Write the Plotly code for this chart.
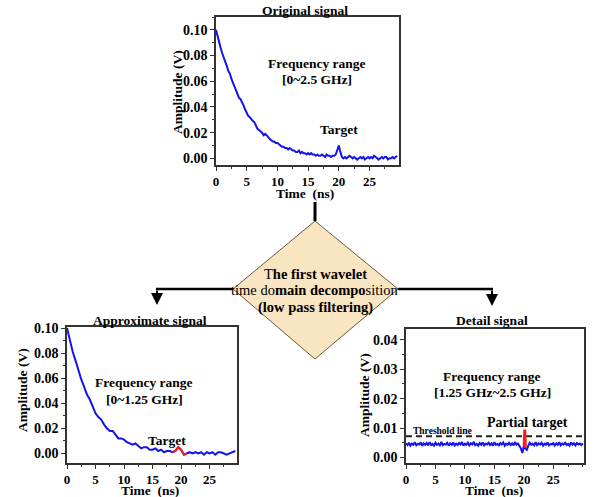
import plotly.graph_objects as go

W, H = 599, 497

# ---------------- data ----------------
orig_t = [i * 0.25 for i in range(119)]
orig_v = [0.100, 0.096, 0.091, 0.086, 0.082, 0.079, 0.076, 0.072, 0.068, 0.066,
          0.062, 0.059, 0.056, 0.053, 0.050, 0.047, 0.046, 0.044, 0.041, 0.038,
          0.035, 0.033, 0.032, 0.030, 0.029, 0.028, 0.025, 0.023, 0.022, 0.021,
          0.020, 0.018, 0.019, 0.018, 0.016, 0.015, 0.014, 0.013, 0.013, 0.012,
          0.012, 0.011, 0.010, 0.009, 0.009, 0.008, 0.008, 0.007, 0.008, 0.007,
          0.006, 0.006, 0.005, 0.005, 0.006, 0.004, 0.005, 0.004, 0.004, 0.003,
          0.004, 0.003, 0.004, 0.003, 0.003, 0.002, 0.003, 0.002, 0.002, 0.003,
          0.002, 0.001, 0.003, 0.002, 0.002, 0.001, 0.002, 0.002, 0.003, 0.007,
          0.010, 0.005, 0.001, 0.000, 0.001, 0.000, 0.001, 0.002, 0.001, 0.000,
          0.001, 0.000, -0.001, 0.000, 0.001, 0.000, 0.001, -0.001, 0.000, 0.001,
          0.000, 0.001, 0.000, 0.002, 0.001, 0.000, -0.001, 0.000, 0.001, 0.000,
          0.001, 0.001, -0.001, 0.000, 0.000, 0.001, 0.000, 0.001, 0.002]

approx_t = [i * 0.5 for i in range(60)]
approx_v = [0.100, 0.090, 0.081, 0.074, 0.066, 0.059, 0.053, 0.047, 0.043, 0.038,
            0.032, 0.029, 0.027, 0.023, 0.020, 0.018, 0.018, 0.015, 0.012, 0.012,
            0.011, 0.009, 0.008, 0.007, 0.008, 0.006, 0.004, 0.005, 0.005, 0.003,
            0.003, 0.004, 0.002, 0.003, 0.001, 0.002, 0.002, 0.001, 0.002, 0.005,
            0.003, -0.001, 0.000, 0.001, 0.000, 0.001, 0.000, 0.001, -0.001, 0.001,
            0.000, 0.001, -0.001, 0.001, 0.001, 0.000, -0.001, 0.000, 0.001, 0.002]
approx_target_t = [18.5, 19.0, 19.5, 20.0, 20.5, 21.0]
approx_target_v = [0.001, 0.002, 0.005, 0.003, -0.001, 0.000]

detail_t = [i * 0.25 for i in range(121)]
detail_v = [0.0048, 0.0042, 0.0050, 0.0040, 0.0047, 0.0043, 0.0052, 0.0041, 0.0046, 0.0044,
            0.0051, 0.0039, 0.0048, 0.0043, 0.0049, 0.0041, 0.0052, 0.0042, 0.0046, 0.0040,
            0.0050, 0.0043, 0.0047, 0.0041, 0.0053, 0.0042, 0.0046, 0.0044, 0.0050, 0.0040,
            0.0048, 0.0043, 0.0051, 0.0041, 0.0047, 0.0042, 0.0049, 0.0044, 0.0052, 0.0040,
            0.0047, 0.0043, 0.0050, 0.0041, 0.0048, 0.0044, 0.0053, 0.0042, 0.0046, 0.0040,
            0.0049, 0.0043, 0.0051, 0.0041, 0.0047, 0.0044, 0.0050, 0.0042, 0.0048, 0.0040,
            0.0052, 0.0043, 0.0046, 0.0041, 0.0049, 0.0044, 0.0051, 0.0040, 0.0047, 0.0043,
            0.0050, 0.0042, 0.0048, 0.0041, 0.0053, 0.0043, 0.0047, 0.0038, 0.0030, 0.0015,
            0.0040, 0.0030, 0.0026, 0.0040, 0.0050, 0.0043, 0.0047, 0.0041, 0.0052, 0.0042,
            0.0048, 0.0044, 0.0050, 0.0040, 0.0047, 0.0043, 0.0051, 0.0041, 0.0046, 0.0044,
            0.0049, 0.0040, 0.0048, 0.0043, 0.0052, 0.0041, 0.0047, 0.0044, 0.0050, 0.0042,
            0.0046, 0.0040, 0.0051, 0.0043, 0.0048, 0.0041, 0.0049, 0.0044, 0.0047, 0.0042,
            0.0048]
detail_target_t = [20.05, 20.15, 20.25]
detail_target_v = [0.0040, 0.0095, 0.0032]
threshold_t = [0, 30]
threshold_v = [0.0072, 0.0072]

x_ticks = [0, 5, 10, 15, 20, 25]

BLUE = "#1414f0"
RED = "#ff1a1a"
FONT = "Liberation Serif"


def px(x):
    return x / W


def py(y):
    return 1 - y / H


fig = go.Figure()
fig.add_trace(go.Scatter(x=orig_t, y=orig_v, mode="lines", line=dict(color=BLUE, width=2),
                         xaxis="x", yaxis="y", showlegend=False))
fig.add_trace(go.Scatter(x=approx_t, y=approx_v, mode="lines", line=dict(color=BLUE, width=2),
                         xaxis="x2", yaxis="y2", showlegend=False))
fig.add_trace(go.Scatter(x=approx_target_t, y=approx_target_v, mode="lines",
                         line=dict(color=RED, width=2), xaxis="x2", yaxis="y2", showlegend=False))
fig.add_trace(go.Scatter(x=threshold_t, y=threshold_v, mode="lines",
                         line=dict(color="#222", width=1.8, dash="6px,4px"),
                         xaxis="x3", yaxis="y3", showlegend=False))
fig.add_trace(go.Scatter(x=detail_t, y=detail_v, mode="lines", line=dict(color=BLUE, width=2),
                         xaxis="x3", yaxis="y3", showlegend=False))
fig.add_trace(go.Scatter(x=detail_target_t, y=detail_target_v, mode="lines",
                         line=dict(color=RED, width=3), xaxis="x3", yaxis="y3", showlegend=False))


def axstyle(size=14, **kw):
    d = dict(showline=True, mirror=True, linecolor="#333", linewidth=1.5,
             ticks="outside", ticklen=4, tickwidth=1.2, tickcolor="#333",
             showgrid=False, zeroline=False, automargin=False,
             tickfont=dict(family=FONT, size=size, color="black", weight="bold"))
    d.update(kw)
    return d


MINOR_X = dict(ticks="outside", ticklen=2.5, dtick=2.5, tick0=0, tickcolor="#333")

fig.update_layout(
    width=W, height=H, autosize=False,
    margin=dict(l=0, r=0, t=0, b=0, pad=0),
    paper_bgcolor="white", plot_bgcolor="white",
    xaxis=axstyle(size=13, domain=[px(216), px(399)], range=[0, 29.8], anchor="y",
                  tickvals=x_ticks, minor=MINOR_X),
    yaxis=axstyle(domain=[py(165), py(17)], range=[-0.0052, 0.110], anchor="x",
                  dtick=0.02, tick0=0, tickformat=".2f",
                  minor=dict(ticks="outside", ticklen=2.5, dtick=0.01, tick0=0, tickcolor="#333")),
    xaxis2=axstyle(size=13, domain=[px(67), px(237)], range=[0, 29.8], anchor="y2",
                   tickvals=x_ticks, minor=MINOR_X),
    yaxis2=axstyle(domain=[py(463), py(327)], range=[-0.0076, 0.1008], anchor="x2",
                   dtick=0.02, tick0=0, tickformat=".2f",
                   minor=dict(ticks="outside", ticklen=2.5, dtick=0.01, tick0=0, tickcolor="#333")),
    xaxis3=axstyle(size=13, domain=[px(406), px(584)], range=[0, 30.2], anchor="y3",
                   tickvals=x_ticks, minor=MINOR_X),
    yaxis3=axstyle(domain=[py(463), py(329)], range=[-0.0019, 0.0437], anchor="x3",
                   dtick=0.01, tick0=0, tickformat=".2f",
                   minor=dict(ticks="outside", ticklen=2.5, dtick=0.005, tick0=0, tickcolor="#333")),
)

ann = []


def text(x, y, s, size=13, bold=True, angle=0):
    ann.append(dict(x=px(x), y=py(y), xref="paper", yref="paper", text=s, showarrow=False,
                    textangle=angle, xanchor="center", yanchor="middle",
                    font=dict(family=FONT, size=size, color="black",
                              weight="bold" if bold else "normal")))


# titles
text(305, 10, "Original signal", size=13.5)
text(150, 320, "Approximate signal", size=13.5)
text(492, 320, "Detail signal", size=13.5)
# axis titles
text(305, 193, "Time  (ns)", size=13.5)
text(150, 490, "Time  (ns)", size=13.5)
text(494, 490, "Time  (ns)", size=13.5)
text(177, 92, "Amplitude (V)", size=13.5, angle=-90)
text(22, 390, "Amplitude (V)", size=13.5, angle=-90)
text(364, 395, "Amplitude (V)", size=13.5, angle=-90)
# in-plot annotations
text(317, 63, "Frequency range", size=13.5)
text(317, 79, "[0~2.5 GHz]", size=13.5)
text(339, 129, "Target", size=13.5)
text(144, 382, "Frequency range", size=13.5)
text(144, 399, "[0~1.25 GHz]", size=13.5)
text(167, 440, "Target", size=13.5)
text(492, 376, "Frequency range", size=13.5)
text(492, 392, "[1.25 GHz~2.5 GHz]", size=13.5)
text(527, 422, "Partial target", size=14)
text(442, 430.5, "Threshold line", size=9.5)
# diamond text
text(315, 274, "T<b>he first wavelet</b>", size=14.5, bold=False)
text(315, 290, "time do<b>main decompo</b>sition", size=14.5, bold=False)
text(315, 307, "<b>(low pass filtering)</b>", size=14.5, bold=False)

# arrows
for (x, y0, y1) in [(157, 289, 305), (492, 289, 306)]:
    ann.append(dict(x=px(x), y=py(y1), ax=0, ay=-(y1 - y0), xref="paper", yref="paper",
                    axref="pixel", ayref="pixel", text="", showarrow=True,
                    arrowhead=2, arrowsize=1.2, arrowwidth=2, arrowcolor="black"))

shapes = [
    dict(type="path", xref="paper", yref="paper",
         path=f"M {px(315)},{py(221)} L {px(398)},{py(289)} L {px(315)},{py(359)} L {px(233)},{py(289)} Z",
         fillcolor="#fae5c2", line=dict(color="#6b5a3a", width=1), layer="below"),
    dict(type="line", xref="paper", yref="paper", x0=px(315), x1=px(315), y0=py(202), y1=py(221),
         line=dict(color="black", width=3)),
    dict(type="line", xref="paper", yref="paper", x0=px(156), x1=px(233), y0=py(289), y1=py(289),
         line=dict(color="black", width=2.5)),
    dict(type="line", xref="paper", yref="paper", x0=px(398), x1=px(493), y0=py(289), y1=py(289),
         line=dict(color="black", width=2.5)),
]

fig.update_layout(annotations=ann, shapes=shapes)
fig.write_html("out.html", config={"displayModeBar": False},
               post_script="document.body.style.margin='0';document.body.style.overflow='hidden';")
